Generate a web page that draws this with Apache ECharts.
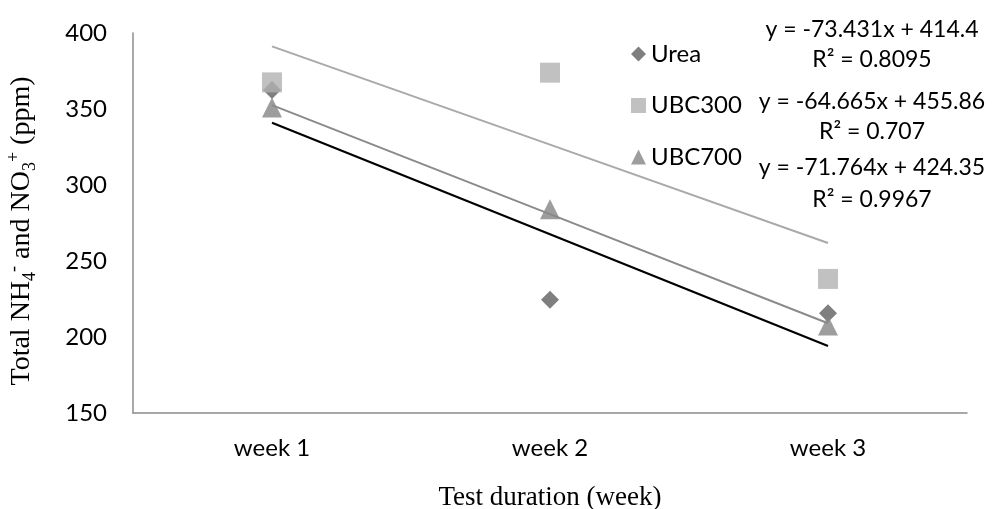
<!DOCTYPE html>
<html>
<head>
<meta charset="utf-8">
<script src="https://cdn.jsdelivr.net/npm/echarts@6/dist/echarts.min.js"></script>
<style>
html,body{margin:0;padding:0;background:#fff;}
#main{width:994px;height:509px;}
</style>
</head>
<body>
<div id="main"></div>
<script>
// ---- data ----
var categories = ['week 1', 'week 2', 'week 3'];
var seriesNames = ['Urea', 'UBC300', 'UBC700'];
var ureaValues = [362.5, 224.5, 215.6];
var ubc300Values = [367.5, 373.9, 238.2];
var ubc700Values = [351.0, 284.0, 207.5];
// trendline coefficients as printed on the chart (y = slope*x + intercept)
var trendSlopes = [-73.431, -64.665, -71.764];
var trendIntercepts = [414.4, 455.86, 424.35];
var equationTexts = [
  'y = -73.431x + 414.4', 'R\u00B2 = 0.8095',
  'y = -64.665x + 455.86', 'R\u00B2 = 0.707',
  'y = -71.764x + 424.35', 'R\u00B2 = 0.9967'
];
var yTicks = {min: 150, max: 400, interval: 50};

var FONT = 'Lato';
var FS = 24;
var markerColors = ['#5f5f5f', '#b2b2b2', '#858585'];
var lineColors = ['#000000', '#a9a9a9', '#8a8a8a'];
var symbols = ['diamond', 'rect', 'triangle'];
var symbolSizes = [[18, 18], [20, 20], [20, 20]];
var allValues = [ureaValues, ubc300Values, ubc700Values];

function trendData(i) {
  return categories.map(function (c, k) {
    return trendSlopes[i] * (k + 1) + trendIntercepts[i];
  });
}

var series = [];
allValues.forEach(function (vals, i) {
  series.push({
    name: seriesNames[i],
    type: 'scatter',
    data: vals,
    symbol: symbols[i],
    symbolSize: symbolSizes[i],
    itemStyle: {color: markerColors[i]},
    z: 2
  });
});
allValues.forEach(function (vals, i) {
  series.push({
    name: seriesNames[i] + ' trend',
    type: 'line',
    data: trendData(i),
    symbol: 'none',
    silent: true,
    lineStyle: {color: lineColors[i], width: i === 0 ? 2.2 : 2},
    z: 3
  });
});

var eqY = [30, 60, 102, 132, 168, 200];
var graphics = equationTexts.map(function (t, k) {
  return {
    type: 'text',
    x: 872, y: eqY[k],
    style: {text: t, font: '23px ' + FONT, fill: '#000', textAlign: 'center', textVerticalAlign: 'middle'}
  };
});

var chart = echarts.init(document.getElementById('main'), null, {renderer: 'canvas'});
chart.setOption({
  animation: false,
  backgroundColor: '#fff',
  grid: {left: 133, right: 27, top: 33, bottom: 96, containLabel: false, outerBoundsMode: 'none'},
  legend: {
    data: seriesNames.map(function (n, i) { return {name: n, icon: symbols[i]}; }),
    orient: 'vertical',
    left: 626, top: 37,
    itemWidth: 15, itemHeight: 15,
    itemGap: 27.5,
    textStyle: {fontFamily: FONT, fontSize: FS, color: '#000', lineHeight: 24}
  },
  xAxis: {
    type: 'category',
    data: categories,
    boundaryGap: true,
    axisLine: {lineStyle: {color: '#8c8c8c', width: 1.5}},
    axisTick: {show: false},
    axisLabel: {fontFamily: FONT, fontSize: FS, color: '#000', margin: 23},
    name: 'Test duration (week)',
    nameLocation: 'middle',
    nameGap: 71,
    nameTextStyle: {fontFamily: 'Liberation Serif', fontSize: 27, color: '#000'}
  },
  yAxis: {
    type: 'value',
    min: yTicks.min, max: yTicks.max, interval: yTicks.interval,
    splitLine: {show: false},
    axisLine: {show: true, lineStyle: {color: '#8c8c8c', width: 1.5}},
    axisTick: {show: false},
    axisLabel: {fontFamily: FONT, fontSize: FS, color: '#000', margin: 26},
    name: '{a|Total NH}{s|4}{p|-}{a| and NO}{s|3}{p|+}{a| (ppm)}',
    nameLocation: 'middle',
    nameRotate: 90,
    nameGap: 94,
    nameTextStyle: {
      color: '#000',
      padding: [0, 16, 0, 0],
      rich: {
        a: {fontFamily: 'Liberation Serif', fontSize: 28, lineHeight: 34, verticalAlign: 'middle', color: '#000'},
        s: {fontFamily: 'Liberation Serif', fontSize: 18, lineHeight: 17, verticalAlign: 'bottom', color: '#000'},
        p: {fontFamily: 'Liberation Serif', fontSize: 18, lineHeight: 17, verticalAlign: 'top', color: '#000'}
      }
    }
  },
  graphic: graphics,
  series: series
});
</script>
</body>
</html>
